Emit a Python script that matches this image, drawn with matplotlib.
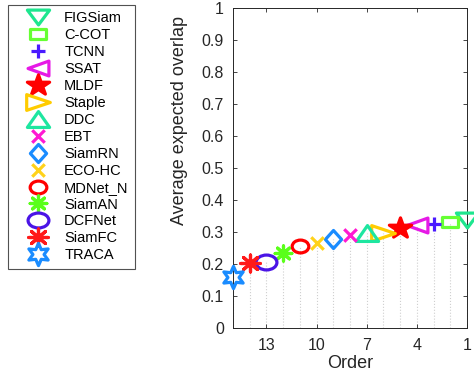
import matplotlib
matplotlib.use("Agg")
import matplotlib.pyplot as plt
from matplotlib.markers import MarkerStyle
from matplotlib.path import Path

plt.rcParams['font.family'] = ['Liberation Sans', 'DejaVu Sans']

trackers = ["FIGSiam", "C-COT", "TCNN", "SSAT", "MLDF", "Staple", "DDC", "EBT",
            "SiamRN", "ECO-HC", "MDNet_N", "SiamAN", "DCFNet", "SiamFC", "TRACA"]
order = list(range(1, 16))
eao = [0.338, 0.331, 0.325, 0.322, 0.311, 0.296, 0.297, 0.291,
       0.277, 0.267, 0.257, 0.235, 0.207, 0.204, 0.160]
xticks = [13, 10, 7, 4, 1]
yticks = [0, 0.1, 0.2, 0.3, 0.4, 0.5, 0.6, 0.7, 0.8, 0.9, 1]
ytick_labels = ["0", "0.1", "0.2", "0.3", "0.4", "0.5", "0.6", "0.7", "0.8", "0.9", "1"]

# styles
base_markers = ["v", "s", "+", "<", "*", ">", "^", "x", "D", "x", "o", (8, 2, 0), "o", (8, 2, 0), (6, 1, 0)]
stretch = [1.5, 1.4, 1.0, 1.4, 1.1, 1.5, 1.4, 1.0, 0.9, 1.0, 1.3, 1.1, 1.4, 1.15, 1.0]
colors = ["#1ee68f", "#66ff33", "#4a1aff", "#e619e6", "#ff0000", "#ffcc00", "#1ee6a0", "#ff19d2",
          "#1a8cff", "#ffd21a", "#ff0000", "#5aff1a", "#4a14e6", "#ff1a1a", "#1a8cff"]
sizes = [16, 11, 10, 15, 16, 17, 16, 9, 13, 9, 12, 12, 15, 14, 16]
filled = [False, False, False, False, True, False, False, False,
          False, False, False, False, False, False, False]


def stretched(m, sx):
    ms = MarkerStyle(m)
    p = ms.get_path().transformed(ms.get_transform())
    v = p.vertices.copy()
    v[:, 0] *= sx
    return Path(v, p.codes)


fig = plt.figure(figsize=(4.74, 3.75), dpi=100)
ax = fig.add_axes([0.4916, 0.1253, 0.4937, 0.8533])

for o, v in zip(order, eao):
    ax.plot([o, o], [0, v], linestyle=":", color="#cfcfcf", linewidth=0.8, zorder=1)

handles = []
for o, v, m, sx, c, s, f, name in zip(order, eao, base_markers, stretch, colors, sizes, filled, trackers):
    h, = ax.plot([o], [v], linestyle="none", marker=stretched(m, sx), markersize=s,
                 markeredgecolor=c, markerfacecolor=(c if f else "none"),
                 markeredgewidth=2.3, label=name, zorder=3, clip_on=False)
    handles.append(h)

ax.set_xlim(15, 1)
ax.set_ylim(0, 1)
ax.set_xticks(xticks)
ax.set_xticklabels([str(t) for t in xticks])
ax.set_yticks(yticks)
ax.set_yticklabels(ytick_labels)
ax.tick_params(direction="in", length=3, colors="#262626", labelsize=11.5, width=0.6,
               top=True, right=True)
ax.tick_params(axis="x", pad=7)
ax.tick_params(axis="y", pad=6.5)
for sp in ax.spines.values():
    sp.set_color("#262626")
    sp.set_linewidth(0.7)
ax.set_xlabel("Order", fontsize=13, color="#262626")
ax.set_ylabel("Average expected overlap", fontsize=13, color="#262626")
ax.xaxis.set_label_coords(0.5, -0.084)
ax.yaxis.set_label_coords(-0.192, 0.647)

leg = fig.legend(handles=handles, loc="upper left", bbox_to_anchor=(0.017, 0.987),
                 fontsize=10.5, frameon=True, fancybox=False, edgecolor="#262626",
                 handlelength=3.2, handletextpad=0.2, labelspacing=0.2,
                 borderpad=0.45, borderaxespad=0)
leg.get_frame().set_linewidth(0.8)

fig.savefig("out.png", dpi=100)
